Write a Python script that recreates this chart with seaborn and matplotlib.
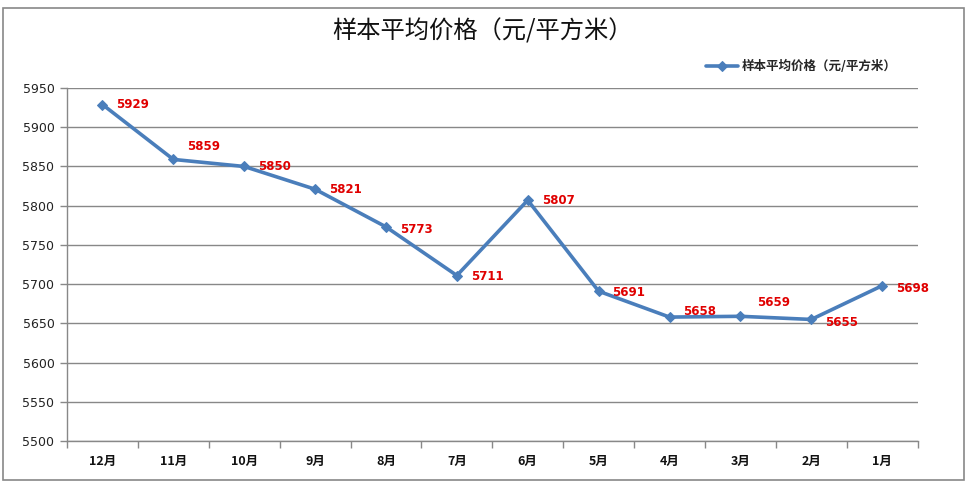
import matplotlib
matplotlib.use("Agg")
import matplotlib.pyplot as plt
import seaborn as sns
import pandas as pd
from matplotlib.patches import Rectangle
from matplotlib.ticker import FixedLocator

months = ["12月", "11月", "10月", "9月", "8月", "7月", "6月", "5月", "4月", "3月", "2月", "1月"]
prices = [5929, 5859, 5850, 5821, 5773, 5711, 5807, 5691, 5658, 5659, 5655, 5698]
y_ticks = [5500, 5550, 5600, 5650, 5700, 5750, 5800, 5850, 5900, 5950]
series_name = "样本平均价格（元/平方米）"
title = "样本平均价格（元/平方米）"

# label offsets in points (layout only)
label_dx = [10, 10, 10, 10, 10, 10, 10, 10, 10, 12, 10, 10]
label_dy = [0, 9, 0, 0, -2, -1, 0, -1, 4, 10, -2, -2]

sns.set_theme(style="white")
plt.rcParams["font.family"] = ["Noto Sans CJK SC", "DejaVu Sans"]

df = pd.DataFrame({"month": months, "price": prices})

fig = plt.figure(figsize=(9.71, 4.84), dpi=100)
fig.patch.set_facecolor("white")
ax = fig.add_axes([0.069, 0.0888, 0.876, 0.7293])

line_color = "#4A7EBB"
sns.lineplot(data=df, x="month", y="price", ax=ax, color=line_color, linewidth=2.6,
             marker="D", markersize=5.5, markeredgecolor=line_color, label=series_name,
             sort=False)

ax.set_xlim(-0.5, len(months) - 0.5)
ax.set_ylim(5500, 5950)
ax.set_yticks(y_ticks)
ax.set_yticklabels([str(v) for v in y_ticks], fontsize=9, color="#222222", family="DejaVu Sans")
ax.set_xticks(range(len(months)))
ax.set_xticklabels(months, fontsize=9, fontweight="bold", color="#111111")
ax.xaxis.set_minor_locator(FixedLocator([i - 0.5 for i in range(len(months) + 1)]))
ax.tick_params(axis="x", which="major", length=0, pad=10)
ax.tick_params(axis="x", which="minor", length=5, color="#888888", width=1, direction="out", bottom=True)
ax.tick_params(axis="y", length=5, color="#888888", width=1, direction="out", left=True, pad=4)
ax.set_xlabel("")
ax.set_ylabel("")
ax.yaxis.grid(True, color="#888888", linewidth=1)
ax.set_axisbelow(True)
for s in ["top", "right"]:
    ax.spines[s].set_visible(False)
for s in ["left", "bottom"]:
    ax.spines[s].set_color("#888888")
    ax.spines[s].set_linewidth(1)

for i, v in enumerate(prices):
    ax.annotate(str(v), (i, v), xytext=(label_dx[i], label_dy[i]), textcoords="offset points",
                ha="left", va="center", fontsize=8.5, fontweight="bold", color="#E00000",
                family="DejaVu Sans")

ax.legend(loc="center right", bbox_to_anchor=(0.975, 1.06), frameon=False,
          prop={"size": 9, "weight": "bold"}, handlelength=2.5, handletextpad=0.3,
          borderpad=0, borderaxespad=0)

fig.text(0.4965, 0.934, title, ha="center", va="center", fontsize=17.5, color="#111111",
         fontweight="medium")

fig.patches.append(Rectangle((0.003, 0.008), 0.99, 0.975, transform=fig.transFigure,
                             fill=False, edgecolor="#888888", linewidth=1.2))

fig.savefig("out.png", dpi=100, facecolor="white")
